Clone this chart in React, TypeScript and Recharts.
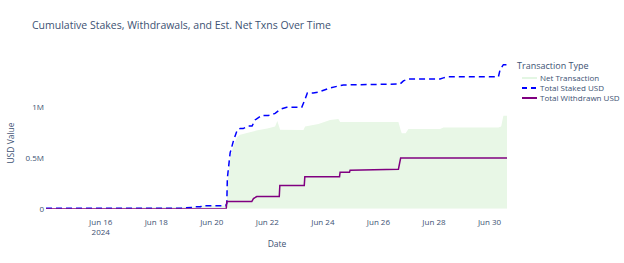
import { ComposedChart, Area, Line, XAxis, YAxis } from 'recharts'

// days are fractional days of June 2024, values in USD
const stakedDays = [14.03, 18.9, 19.0, 19.35, 19.4, 19.6, 19.65, 20.5, 20.54, 20.56, 20.66, 20.78, 20.92, 21.02, 21.13, 21.31, 21.45, 21.56, 21.8, 22.04, 22.28, 22.46, 22.7, 23.24, 23.36, 23.44, 23.65, 23.84, 24.26, 24.56, 24.74, 26.78, 26.9, 27.08, 28.22, 28.34, 28.52, 30.32, 30.38, 30.5, 30.63]
const stakedUsd = [5000, 5000, 10000, 12000, 20000, 20000, 30000, 30000, 50000, 300000, 550000, 670000, 780000, 790000, 790000, 815000, 815000, 875000, 920000, 920000, 940000, 980000, 1000000, 1000000, 1080000, 1140000, 1140000, 1150000, 1190000, 1210000, 1220000, 1230000, 1260000, 1280000, 1280000, 1290000, 1300000, 1300000, 1370000, 1420000, 1420000]

const withdrawnDays = [14.03, 20.52, 20.54, 21.44, 21.5, 21.62, 22.43, 22.45, 23.33, 23.35, 24.6, 24.62, 24.96, 24.98, 26.72, 26.8, 30.63]
const withdrawnUsd = [0, 0, 70000, 70000, 100000, 120000, 120000, 230000, 230000, 316000, 316000, 360000, 360000, 380000, 390000, 500000, 500000]

const netDays = [14.03, 19.4, 19.65, 20.5, 20.54, 20.56, 20.66, 20.78, 20.92, 21.02, 21.3, 21.6, 22.0, 22.28, 22.36, 22.46, 23.3, 23.36, 23.84, 24.26, 24.56, 24.62, 26.72, 26.8, 26.84, 26.98, 27.08, 28.22, 28.34, 30.32, 30.42, 30.5, 30.63]
const netUsd = [5000, 20000, 30000, 30000, 5000, 250000, 500000, 620000, 710000, 730000, 750000, 770000, 790000, 810000, 865000, 778000, 776000, 810000, 835000, 875000, 885000, 855000, 855000, 776000, 743000, 743000, 786000, 786000, 800000, 800000, 810000, 917000, 917000]

const dayTicks = [16, 18, 20, 22, 24, 26, 28, 30]
const valueTicks = [0, 500000, 1000000]

const legendItems = [
  { name: 'Net Transaction', color: '#e3f6e3', dash: undefined },
  { name: 'Total Staked USD', color: '#0000ff', dash: '5,4' },
  { name: 'Total Withdrawn USD', color: '#800080', dash: undefined },
]

const staked = stakedDays.map((d, i) => ({ day: d, v: stakedUsd[i] }))
const withdrawn = withdrawnDays.map((d, i) => ({ day: d, v: withdrawnUsd[i] }))
const net = netDays.map((d, i) => ({ day: d, v: netUsd[i] }))

const TEXT = '#3d5273'
const FONT = '"Open Sans", Arial, sans-serif'

function formatValue(v: number) {
  if (v === 0) return '0'
  return `${v / 1000000}M`
}

function DateTick(props: any) {
  const { x, y, payload } = props
  return (
    <g transform={`translate(${x},${y})`}>
      <text textAnchor="middle" dominantBaseline="central" y={12.7} fontSize={8} fill={TEXT} fontFamily={FONT}>
        Jun {payload.value}
      </text>
      {payload.value === 16 && (
        <text textAnchor="middle" dominantBaseline="central" y={23.3} fontSize={8} fill={TEXT} fontFamily={FONT}>
          2024
        </text>
      )}
    </g>
  )
}

export default function App() {
  return (
    <div style={{ position: 'absolute', left: 0, top: 0, width: 624, height: 263, background: '#fff', fontFamily: FONT }}>
      <ComposedChart width={624} height={263} margin={{ top: 57.6, right: 117, bottom: 0, left: 6 }}>
        <XAxis
          dataKey="day"
          type="number"
          domain={[14.03, 30.63]}
          ticks={dayTicks}
          allowDataOverflow
          axisLine={false}
          tickLine={false}
          tickSize={0}
          tickMargin={0}
          height={54.3}
          tick={<DateTick />}
        />
        <YAxis
          type="number"
          domain={[0, 1490000]}
          ticks={valueTicks}
          allowDataOverflow
          axisLine={false}
          tickLine={false}
          tickSize={0}
          tickMargin={2}
          width={40}
          tickFormatter={formatValue}
          tick={{ fontSize: 8, fill: TEXT, fontFamily: FONT }}
        />
        <Area data={net} dataKey="v" type="linear" stroke="none" fill="#e8f7e6" fillOpacity={1} isAnimationActive={false} />
        <Line data={staked} dataKey="v" type="linear" stroke="#0000ff" strokeWidth={1.5} strokeDasharray="6 4" dot={false} isAnimationActive={false} />
        <Line data={withdrawn} dataKey="v" type="linear" stroke="#800080" strokeWidth={1.5} dot={false} isAnimationActive={false} />
      </ComposedChart>

      <div style={{ position: 'absolute', left: 32, top: 17, fontSize: 10.5, color: TEXT, whiteSpace: 'nowrap', lineHeight: '16px' }}>
        Cumulative Stakes, Withdrawals, and Est. Net Txns Over Time
      </div>
      <div style={{ position: 'absolute', left: 266, top: 238, width: 22, textAlign: 'center', fontSize: 8.5, color: TEXT, lineHeight: '12px' }}>
        Date
      </div>
      <div style={{ position: 'absolute', left: 11, top: 143, transform: 'translate(-50%, -50%) rotate(-90deg)', fontSize: 8.5, color: TEXT, whiteSpace: 'nowrap', lineHeight: '12px' }}>
        USD Value
      </div>

      <div style={{ position: 'absolute', left: 517, top: 59, color: TEXT }}>
        <div style={{ fontSize: 9, lineHeight: '14px', whiteSpace: 'nowrap' }}>Transaction Type</div>
        {legendItems.map((item) => (
          <div key={item.name} style={{ display: 'flex', alignItems: 'center', height: 10, marginLeft: 4 }}>
            <svg width={19} height={10}>
              <line x1={1} y1={5} x2={16} y2={5} stroke={item.color} strokeWidth={2} strokeDasharray={item.dash} />
            </svg>
            <span style={{ fontSize: 8, whiteSpace: 'nowrap', lineHeight: '10px' }}>{item.name}</span>
          </div>
        ))}
      </div>
    </div>
  )
}
